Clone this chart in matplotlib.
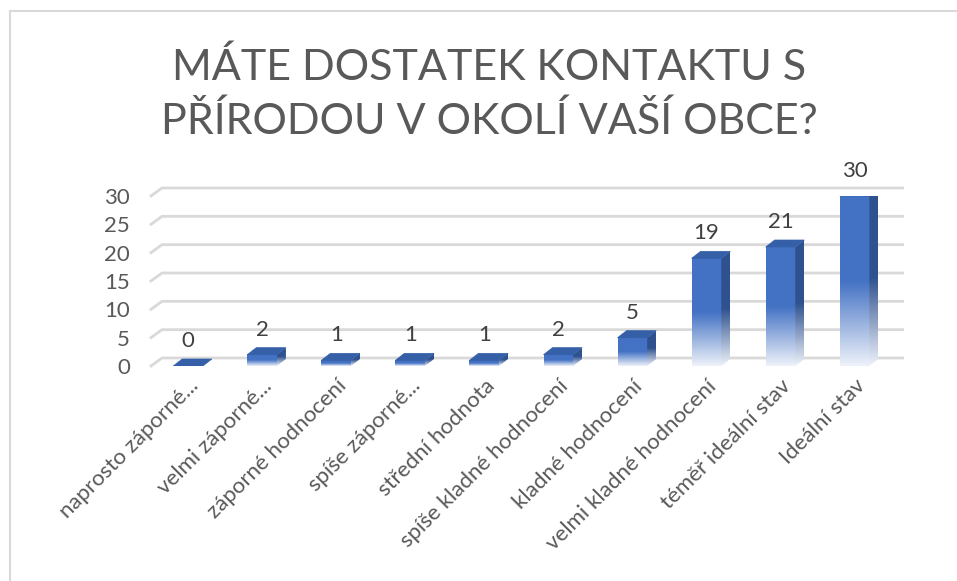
import numpy as np
import matplotlib
matplotlib.use("Agg")
import matplotlib.pyplot as plt
from matplotlib.patches import Polygon
from matplotlib.colors import to_rgb

# data
categories = ["naprosto záporné...", "velmi záporné...", "záporné hodnocení",
              "spíše záporné...", "střední hodnota", "spíše kladné hodnocení",
              "kladné hodnocení", "velmi kladné hodnocení", "téměř ideální stav",
              "Ideální stav"]
values = [0, 2, 1, 1, 1, 2, 5, 19, 21, 30]
yticks = [0, 5, 10, 15, 20, 25, 30]
title = "MÁTE DOSTATEK KONTAKTU S\nPŘÍRODOU V OKOLÍ VAŠÍ OBCE?"

text_col = "#595959"
grid_col = "#d9d9d9"
front_col = "#4472c4"
side_col = "#2f528f"
top_col = "#3560a8"
fade_col = "#eef2fa"

plt.rcParams['font.family'] = ['Lato', 'DejaVu Sans']

W, H = 957, 581
fig = plt.figure(figsize=(W / 100, H / 100), dpi=100)

# chart border (left + top only visible)
fig.add_artist(plt.Line2D([10 / W, 10 / W], [0, 1 - 11 / H], color=grid_col, lw=1.5))
fig.add_artist(plt.Line2D([10 / W, 1], [1 - 11 / H, 1 - 11 / H], color=grid_col, lw=1.5))

fig.text(489 / W, 1 - 94 / H, title, ha="center", va="center", fontsize=31,
         color=text_col, linespacing=1.45)

ax = fig.add_axes([151 / W, (H - 366) / H, 740.6 / W, 170 / H])
ax.set_xlim(-0.5, len(values) - 0.5)
ax.set_ylim(0, 30)
for s in ax.spines.values():
    s.set_visible(False)

# pixel -> data unit helpers
px_x = (len(values)) / 740.6
px_y = 30 / 170.0

# back wall gridlines
gdx, gdy = 11 * px_x, 8 * px_y
for v in yticks:
    ax.plot([-0.5, -0.5 + gdx, len(values) - 0.5 + gdx], [v, v + gdy, v + gdy],
            color=grid_col, lw=2, zorder=0, clip_on=False)

# 3d-looking bars with gradient
bw = 0.4
bdx, bdy = 9 * px_x, 7 * px_y


def grad_img(c_top, c_bot):
    t = np.linspace(0, 1, 200)[:, None]
    k = np.clip(t / 0.5, 0, 1)  # fade over lower half
    a = np.array(to_rgb(c_bot))
    b = np.array(to_rgb(c_top))
    img = a + (b - a) * k[..., None]
    return img[::-1] * np.ones((1, 2, 1))


for i, v in enumerate(values):
    x0, x1 = i - bw / 2, i + bw / 2
    if v > 0:
        ax.imshow(grad_img(front_col, fade_col), extent=(x0, x1, 0, v),
                  aspect="auto", zorder=2, interpolation="bilinear")
        side = Polygon([(x1, 0), (x1 + bdx, bdy), (x1 + bdx, v + bdy), (x1, v)],
                       closed=True, fc="none", ec="none")
        ax.add_patch(side)
        im = ax.imshow(grad_img(side_col, fade_col), extent=(x1, x1 + bdx, 0, v + bdy),
                       aspect="auto", zorder=2, interpolation="bilinear")
        im.set_clip_path(side)
    top = Polygon([(x0, v), (x0 + bdx, v + bdy), (x1 + bdx, v + bdy), (x1, v)],
                  closed=True, fc=top_col, ec=top_col, lw=0.5, zorder=3)
    ax.add_patch(top)
    ax.annotate(str(v), (i, v), xytext=(0, 25), textcoords="offset pixels",
                ha="center", va="center", fontsize=16, color="#404040",
                annotation_clip=False)

ax.set_xlim(-0.5, len(values) - 0.5)
ax.set_ylim(0, 30)

ax.set_yticks(yticks)
ax.set_yticklabels([str(t) for t in yticks], fontsize=16, color=text_col)
ax.tick_params(axis="y", length=0, pad=15)
ax.set_xticks(range(len(values)))
ax.set_xticklabels(categories, rotation=45, ha="right", va="top",
                   rotation_mode="anchor", fontsize=16, color=text_col)
ax.tick_params(axis="x", length=0, pad=7)

fig.savefig("out.png", dpi=100, facecolor="white")
